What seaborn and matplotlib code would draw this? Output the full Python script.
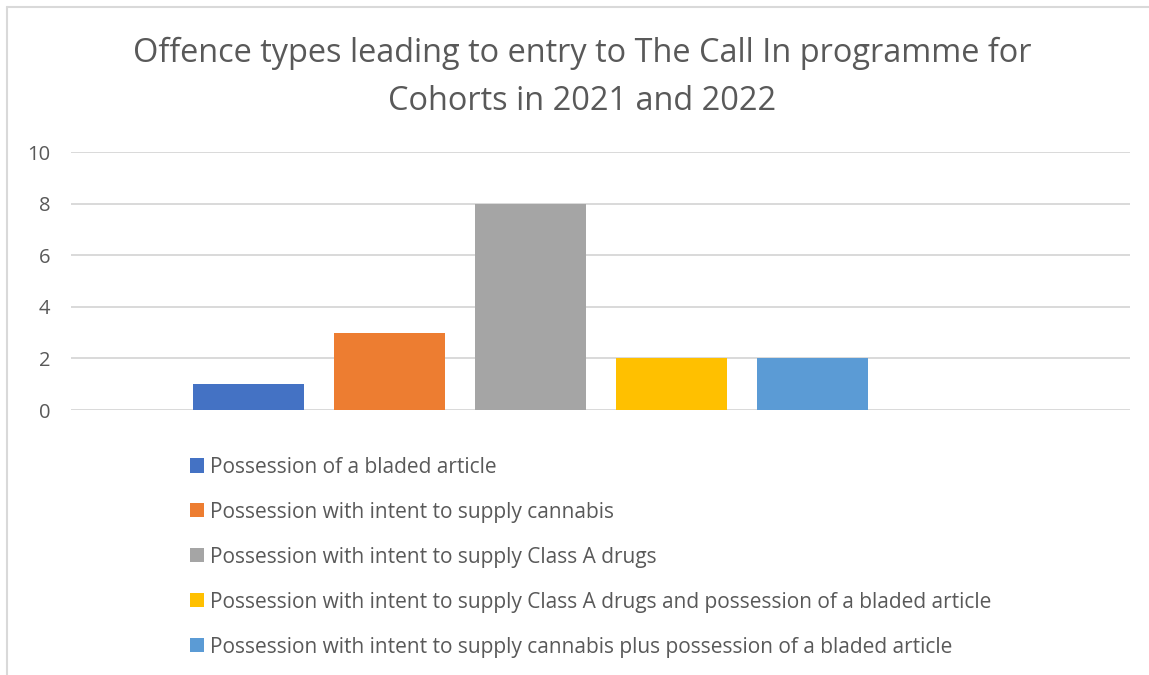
import matplotlib.pyplot as plt
import matplotlib.lines as mlines
import pandas as pd
import seaborn as sns

# data
offences = [
    "Possession of a bladed article",
    "Possession with intent to supply cannabis",
    "Possession with intent to supply Class A drugs",
    "Possession with intent to supply Class A drugs and possession of a bladed article",
    "Possession with intent to supply cannabis plus possession of a bladed article",
]
counts = [1, 3, 8, 2, 2]
colours = ["#4472C4", "#ED7D31", "#A5A5A5", "#FFC000", "#5B9BD5"]
y_ticks = [0, 2, 4, 6, 8, 10]

TEXT = "#595959"
GRID = "#D9D9D9"

sns.set_theme(style="white")
plt.rcParams["font.family"] = ["Open Sans", "DejaVu Sans"]

df = pd.DataFrame({"offence": offences, "count": counts})

fig = plt.figure(figsize=(11.49, 6.75), dpi=100)
ax = fig.add_axes([71 / 1149, 1 - 410 / 675, (1130 - 71) / 1149, (410 - 152) / 675])

sns.barplot(
    data=df, x="offence", y="count", hue="offence",
    palette=colours, width=111 / 141, dodge=False, legend=True,
    saturation=1, linewidth=0, ax=ax,
)

# axes styling, excel-like
ax.set_xlim(-(248.5 - 71) / 141, (1130 - 248.5) / 141)
ax.set_ylim(0, 10)
ax.set_yticks(y_ticks)
ax.yaxis.grid(True, color=GRID, linewidth=1.4)
ax.set_axisbelow(True)
for s in ax.spines.values():
    s.set_visible(False)
ax.set_xticks([])
ax.set_xlabel("")
ax.set_ylabel("")
ax.tick_params(axis="y", length=0, pad=15, labelsize=14.5, labelcolor=TEXT)

# legend below the plot
sns.move_legend(
    ax, "upper left",
    bbox_to_anchor=(171 / 1149, 1 - 438 / 675), bbox_transform=fig.transFigure,
    frameon=False, title=None, fontsize=15,
    handlelength=0.67, handleheight=0.67, handletextpad=0.3, labelspacing=1.15,
)
for t in ax.get_legend().get_texts():
    t.set_color(TEXT)

# title
fig.text(0.507, 1 - 77 / 675, "Offence types leading to entry to The Call In programme for\nCohorts in 2021 and 2022",
         ha="center", va="center", fontsize=23.4, color=TEXT, linespacing=1.6)

# chart area border (top and left edges visible)
fig.add_artist(mlines.Line2D([7 / 1149, 1], [1 - 7 / 675, 1 - 7 / 675], color=GRID, lw=1.5))
fig.add_artist(mlines.Line2D([7 / 1149, 7 / 1149], [0, 1 - 7 / 675], color=GRID, lw=1.5))

fig.savefig("out.png", dpi=100, facecolor="white")
